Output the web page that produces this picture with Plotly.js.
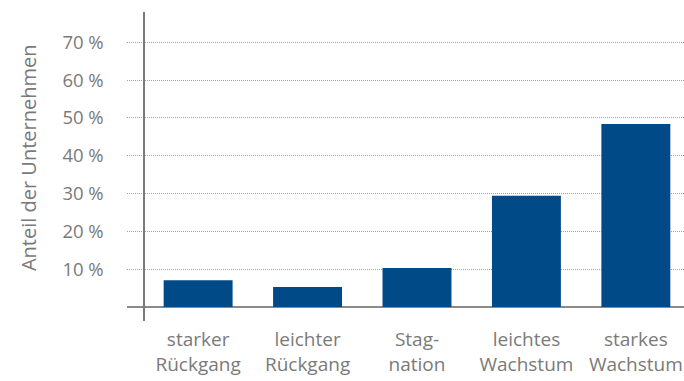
<!DOCTYPE html>
<html>
<head>
<meta charset="utf-8">
<script src="https://cdn.plot.ly/plotly-3.0.1.min.js"></script>
<style>html,body{margin:0;padding:0;background:#fff;}#chart{width:684px;height:381px;}</style>
</head>
<body>
<div id="chart"></div>
<script>
const categories = ["starker<br>Rückgang", "leichter<br>Rückgang", "Stag-<br>nation", "leichtes<br>Wachstum", "starkes<br>Wachstum"];
const shares = [7.1, 5.3, 10.3, 29.4, 48.4];
const tickValues = [10, 20, 30, 40, 50, 60, 70];
const tickLabels = ["10 %", "20 %", "30 %", "40 %", "50 %", "60 %", "70 %"];
const yTitle = "Anteil der Unternehmen";

const fontFam = "'Open Sans', 'Liberation Sans', sans-serif";
const grey = "#7a7a7a";

const trace = {
  type: "bar",
  x: [0, 1, 2, 3, 4],
  y: shares,
  marker: {color: "#004a87", line: {width: 0}},
  width: 0.63,
  hoverinfo: "none"
};

const layout = {
  width: 684, height: 381,
  margin: {l: 127, r: 0, t: 12, b: 60},
  paper_bgcolor: "#fff", plot_bgcolor: "#fff",
  showlegend: false,
  font: {family: fontFam, color: grey, size: 18},
  xaxis: {
    range: [-0.65, 4.44],
    tickvals: [0, 1, 2, 3, 4],
    ticktext: categories,
    showgrid: false, zeroline: false, showline: false,
    ticks: "", ticklabelstandoff: 5,
    tickfont: {family: fontFam, color: grey, size: 19},
    fixedrange: true
  },
  yaxis: {
    range: [-3.7, 78],
    anchor: "free", position: 0.0294,
    tickvals: tickValues,
    ticktext: tickLabels,
    showgrid: true, gridcolor: "#a0a0a0", gridwidth: 1, griddash: "1px,1px",
    zeroline: true, zerolinecolor: "#8a8a8a", zerolinewidth: 1.5,
    showline: true, linecolor: "#7a7a7a", linewidth: 1.5,
    ticks: "", ticklabelstandoff: 36,
    tickfont: {family: fontFam, color: grey, size: 18.5},
    fixedrange: true
  },
  annotations: [{
    text: yTitle, textangle: -90,
    xref: "paper", yref: "paper",
    x: -0.178, y: 0.53, xanchor: "center", yanchor: "middle",
    showarrow: false,
    font: {family: fontFam, color: grey, size: 20}
  }]
};

Plotly.newPlot("chart", [trace], layout, {displayModeBar: false, staticPlot: true});
</script>
</body>
</html>
